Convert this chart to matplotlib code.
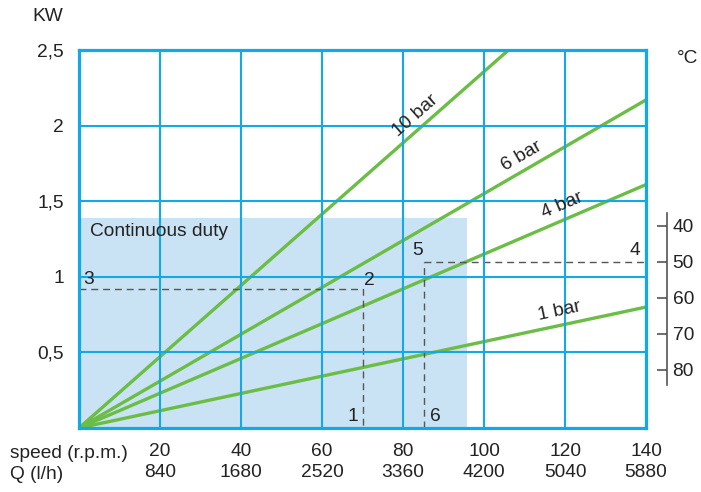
"""Pump power vs speed chart with continuous duty area and temperature scale."""

import math

import matplotlib
matplotlib.use("Agg")
import matplotlib.pyplot as plt

plt.rcParams["font.family"] = ["Liberation Sans", "DejaVu Sans"]

# data
speed = [0, 140]
speed_ticks = [20, 40, 60, 80, 100, 120, 140]
flow_ticks = [840, 1680, 2520, 3360, 4200, 5040, 5880]
power_ticks = [0.5, 1.0, 1.5, 2.0, 2.5]
power_labels = ["0,5", "1", "1,5", "2", "2,5"]

pressures = ["10 bar", "6 bar", "4 bar", "1 bar"]
power_at_140 = [3.30, 2.17, 1.61, 0.80]
label_speed = [83.7, 110.0, 120.0, 119.3]

duty_speed = 95.8
duty_power = 1.39

# operating points: (speed, power)
pt_a = (70.0, 0.92)
pt_b = (85.2, 1.10)

temp_ticks = [40, 50, 60, 70, 80]
temp_ref = 50
temp_ref_power = 1.10
power_per_degree = 0.02383

BLUE = "#12a9e6"
GREEN = "#6cbd45"
DASH = "#555555"
TEXT = "#222222"
FS = 13.8

fig = plt.figure(figsize=(7.01, 4.92), dpi=100)
ax = fig.add_axes([79 / 701, 64 / 492, 567 / 701, 378 / 492])
ax.set_xlim(0, 140)
ax.set_ylim(0, 2.5)

ax.add_patch(plt.Rectangle((0, 0), duty_speed, duty_power, color="#c9e3f4", lw=0, zorder=0))
ax.text(2.7, 1.30, "Continuous duty", fontsize=FS, color=TEXT, va="center", zorder=4)

ax.set_xticks(speed_ticks)
ax.set_xticklabels([f"{s}\n{q}" for s, q in zip(speed_ticks, flow_ticks)], linespacing=1.3)
ax.set_yticks(power_ticks)
ax.set_yticklabels(power_labels)
ax.tick_params(length=0, labelsize=FS, labelcolor=TEXT)
ax.tick_params(axis="y", pad=11)
ax.tick_params(axis="x", pad=11)
ax.grid(True, color=BLUE, lw=1.5, zorder=1)
ax.set_axisbelow(False)
for sp in ax.spines.values():
    sp.set_color(BLUE)
    sp.set_linewidth(2.3)
    sp.set_zorder(3)

for name, top, sx in zip(pressures, power_at_140, label_speed):
    slope = top / 140
    ax.plot(speed, [0, top], color=GREEN, lw=2.4, zorder=2, solid_capstyle="butt")
    p1 = ax.transData.transform((0, 0))
    p2 = ax.transData.transform((140, top))
    ang = math.degrees(math.atan2(p2[1] - p1[1], p2[0] - p1[0]))
    ax.annotate(name, (sx, slope * sx), xytext=(-2, 10), textcoords="offset points",
                rotation=ang, rotation_mode="anchor", ha="center", va="center",
                fontsize=FS, color=TEXT, zorder=4)

dash = dict(color=DASH, lw=1.0, dashes=(5, 3.5), zorder=2)
ax.plot([0, pt_a[0], pt_a[0]], [pt_a[1], pt_a[1], 0], **dash)
ax.plot([pt_b[0], pt_b[0]], [0, pt_b[1]], **dash)
ax.plot([pt_b[0], 140], [pt_b[1], pt_b[1]], **dash)

num = dict(fontsize=FS, color=TEXT, zorder=4)
ax.annotate("3", (0, pt_a[1]), xytext=(3, 1), textcoords="offset points", ha="left", va="bottom", **num)
ax.annotate("2", pt_a, xytext=(1, 0), textcoords="offset points", ha="left", va="bottom", **num)
ax.annotate("1", (pt_a[0], 0), xytext=(-3, 2), textcoords="offset points", ha="right", va="bottom", **num)
ax.annotate("5", pt_b, xytext=(-1, 2), textcoords="offset points", ha="right", va="bottom", **num)
ax.annotate("6", (pt_b[0], 0), xytext=(4, 2), textcoords="offset points", ha="left", va="bottom", **num)
ax.annotate("4", (140, pt_b[1]), xytext=(-4, 2), textcoords="offset points", ha="right", va="bottom", **num)

# axis row captions
ax.text(-69 / 4.05, -25 / 151, "speed (r.p.m.)", fontsize=FS, color=TEXT, ha="left", va="center", clip_on=False)
ax.text(-69 / 4.05, -46 / 151, "Q (l/h)", fontsize=FS, color=TEXT, ha="left", va="center", clip_on=False)
ax.text(-16 / 4.05, 2.5 + 33 / 151, "KW", fontsize=FS, color=TEXT, ha="right", va="center", clip_on=False)
ax.text(147.5, 2.5 - 8 / 151, "°C", fontsize=FS, color=TEXT, ha="left", va="center", clip_on=False)


def kw_to_c(kw):
    return temp_ref - (kw - temp_ref_power) / power_per_degree


def c_to_kw(c):
    return temp_ref_power - (c - temp_ref) * power_per_degree


sec = ax.secondary_yaxis(588 / 567, functions=(kw_to_c, c_to_kw))
sec.set_yticks(temp_ticks)
sec.tick_params(direction="in", length=7, width=1.2, color="#555555", labelsize=FS,
                labelcolor=TEXT, pad=4)
sec.spines["right"].set_color("#555555")
sec.spines["right"].set_linewidth(1.2)
sec.spines["right"].set_bounds(kw_to_c(1.424), kw_to_c(0.285))

fig.savefig("out.png", dpi=100)
